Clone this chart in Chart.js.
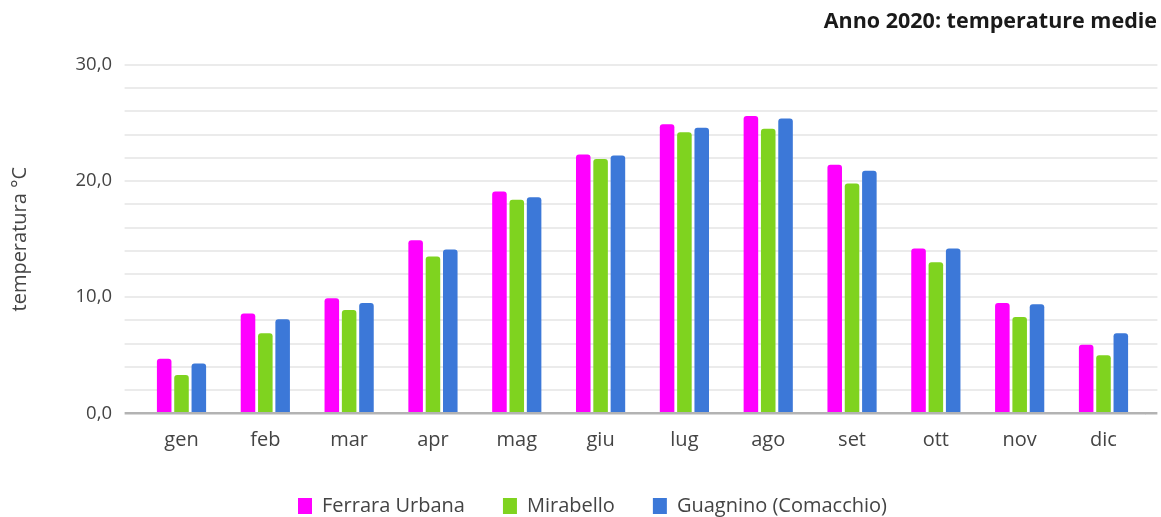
<!DOCTYPE html>
<html lang="it">
<head>
<meta charset="utf-8">
<title>Anno 2020: temperature medie</title>
<script src="https://cdn.jsdelivr.net/npm/chart.js@4/dist/chart.umd.min.js"></script>
<style>
  html, body { margin: 0; padding: 0; background: #ffffff; overflow: hidden; }
  #wrap { width: 1161px; height: 517px; overflow: hidden; }
  canvas { display: block; }
</style>
</head>
<body>
<div id="wrap"><canvas id="chart" width="1161" height="526"></canvas></div>
<script>
// Mesi dell'anno
const mesi = ['gen', 'feb', 'mar', 'apr', 'mag', 'giu', 'lug', 'ago', 'set', 'ott', 'nov', 'dic'];

// Temperature medie mensili 2020 (°C) per stazione
const ferraraUrbana = [4.7, 8.6, 9.9, 14.9, 19.1, 22.3, 24.9, 25.6, 21.4, 14.2, 9.5, 5.9];
const mirabello     = [3.3, 6.9, 8.9, 13.5, 18.4, 21.9, 24.2, 24.5, 19.8, 13.0, 8.3, 5.0];
const guagnino      = [4.3, 8.1, 9.5, 14.1, 18.6, 22.2, 24.6, 25.4, 20.9, 14.2, 9.4, 6.9];

// Asse Y: da 0 a 30, linee ogni 2 gradi, etichette ogni 10
const yMin = 0;
const yMax = 30;
const yStep = 2;
const yLabelEvery = 10;

const FONT = '"Open Sans", Lato, "DejaVu Sans", sans-serif';
const TEXT = '#444444';

const gridColor = c => (c.tick && c.tick.value === 0) ? '#b3b3b3' : '#ebebeb';
const gridWidth = c => (c.tick && c.tick.value === 0) ? 2.5 : 2;

const barStyle = {
  borderRadius: 3,
  borderSkipped: 'start',
  barPercentage: 0.84,
  categoryPercentage: 0.62
};

new Chart(document.getElementById('chart'), {
  type: 'bar',
  data: {
    labels: mesi,
    datasets: [
      Object.assign({ label: 'Ferrara Urbana', data: ferraraUrbana, backgroundColor: '#ff00ff' }, barStyle),
      Object.assign({ label: 'Mirabello', data: mirabello, backgroundColor: '#7fd31f' }, barStyle),
      Object.assign({ label: 'Guagnino (Comacchio)', data: guagnino, backgroundColor: '#3c78d8' }, barStyle)
    ]
  },
  options: {
    responsive: false,
    animation: false,
    layout: { padding: { left: 28, right: 4, top: 0, bottom: 0 } },
    plugins: {
      title: {
        display: true,
        text: 'Anno 2020: temperature medie',
        align: 'end',
        color: '#1a1a1a',
        font: { family: FONT, size: 21.5, weight: 'bold' },
        padding: { top: 8.5, bottom: 30.7 }
      },
      legend: {
        position: 'bottom',
        labels: {
          color: TEXT,
          font: { family: FONT, size: 20 },
          boxWidth: 14,
          boxHeight: 16,
          padding: 38
        }
      },
      tooltip: { enabled: false }
    },
    scales: {
      x: {
        grid: { display: false, drawTicks: false },
        border: { display: false },
        ticks: { color: TEXT, font: { family: FONT, size: 20 }, padding: 14.7 },
        afterFit: s => { s.height = 44.7; }
      },
      y: {
        min: yMin,
        max: yMax,
        border: { display: false },
        grid: { color: gridColor, lineWidth: gridWidth, tickLength: 15 },
        ticks: {
          stepSize: yStep,
          autoSkip: false,
          color: TEXT,
          padding: 12.6,
          font: { family: FONT, size: 18.5 },
          callback: v => (v % yLabelEvery === 0) ? v.toFixed(1).replace('.', ',') : ''
        },
        title: {
          display: true,
          text: 'temperatura °C',
          color: TEXT,
          font: { family: FONT, size: 20 },
          padding: { top: -20, bottom: 0 }
        },
        afterFit: s => { s.width = 111.6; }
      },
      y2: {
        position: 'right',
        min: yMin,
        max: yMax,
        border: { display: false },
        grid: { drawOnChartArea: false, color: gridColor, lineWidth: gridWidth, tickLength: 12 },
        ticks: { stepSize: yStep, autoSkip: false, display: false },
        afterFit: s => { s.width = 11.6; }
      }
    }
  }
});
</script>
</body>
</html>
